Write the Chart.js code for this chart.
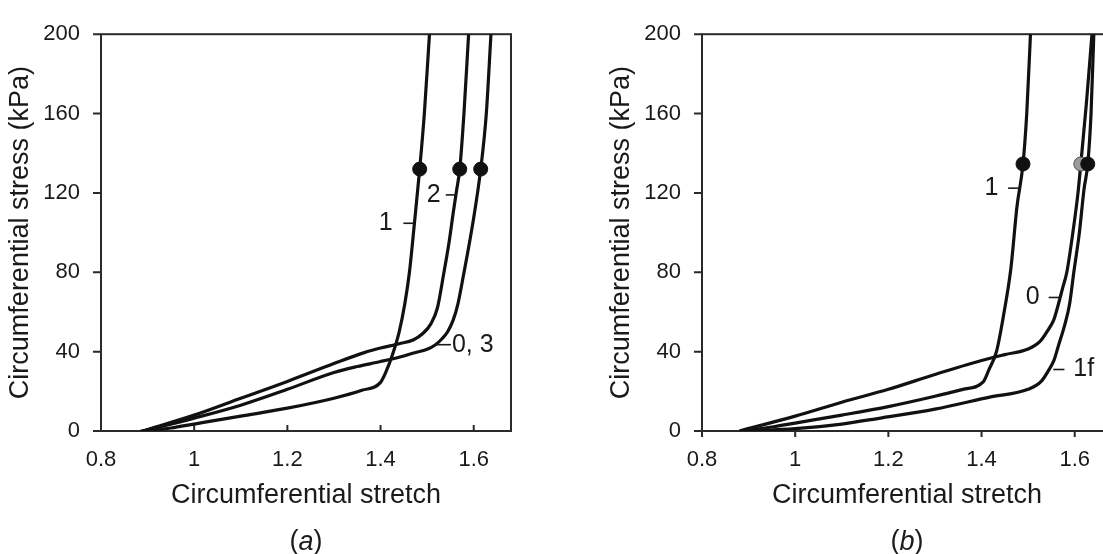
<!DOCTYPE html>
<html>
<head>
<meta charset="utf-8">
<script src="https://cdn.jsdelivr.net/npm/chart.js@4.4.0/dist/chart.umd.min.js"></script>
<style>
html, body { margin: 0; padding: 0; background: #fff; width: 1103px; height: 554px; overflow: hidden; }
canvas { position: absolute; top: 0; }
#ca { left: 0; }
#cb { left: 601px; }
</style>
</head>
<body>
<canvas id="ca" width="540" height="554"></canvas>
<canvas id="cb" width="540" height="554"></canvas>
<script>
// ticks
const xTicks = [0.8, 1, 1.2, 1.4, 1.6];
const yTicks = [0, 40, 80, 120, 160, 200];

// panel (a) - curves 1, 2 and "0, 3"
const a1X = [0.885, 0.95, 1.0, 1.1, 1.2, 1.3, 1.36, 1.40, 1.412, 1.425, 1.44, 1.452, 1.462, 1.472, 1.484, 1.494, 1.505];
const a1Y = [0, 1.5, 3.5, 7.5, 11.5, 16.5, 20.5, 24.5, 30, 38, 50, 64, 80, 103, 132, 160, 200];
const a2X = [0.89, 1.0, 1.1, 1.2, 1.3, 1.365, 1.40, 1.44, 1.471, 1.49, 1.508, 1.522, 1.535, 1.547, 1.556, 1.563, 1.570, 1.579, 1.589];
const a2Y = [0, 8, 16.5, 25, 34, 39.5, 41.8, 44, 46, 49, 54, 62, 78.5, 95, 110, 121, 132, 160, 200];
const a3X = [0.89, 1.0, 1.1, 1.2, 1.3, 1.35, 1.4, 1.45, 1.471, 1.50, 1.518, 1.532, 1.544, 1.556, 1.566, 1.578, 1.598, 1.615, 1.627, 1.637];
const a3Y = [0, 6.5, 13, 21, 29.5, 32.5, 35, 37.8, 39.3, 41.2, 43.5, 46.5, 50, 56, 64, 78.5, 104.7, 132, 160, 200];
const aDotX = [1.484, 1.570, 1.615];
const aDotY = [132, 132, 132];

// panel (b) - curves 1, 0 and 1f
const b1X = [0.884, 0.95, 1.0, 1.1, 1.2, 1.3, 1.36, 1.403, 1.416, 1.432, 1.447, 1.463, 1.476, 1.489, 1.497, 1.505];
const b1Y = [0, 2, 4, 8, 12.3, 17.5, 21, 24.6, 31, 40, 58, 82, 113, 134.6, 160, 200];
const b0X = [0.88, 1.0, 1.1, 1.2, 1.3, 1.4, 1.45, 1.50, 1.525, 1.543, 1.555, 1.565, 1.574, 1.583, 1.596, 1.607, 1.613, 1.625, 1.637];
const b0Y = [0, 7.5, 14.5, 21, 28.5, 35.5, 38.5, 41.3, 45, 51, 56, 64, 72, 80, 100, 120, 134.6, 165, 200];
const b1fX = [0.9, 1.0, 1.1, 1.18, 1.3, 1.42, 1.5, 1.528, 1.546, 1.556, 1.565, 1.578, 1.589, 1.598, 1.61, 1.62, 1.628, 1.635, 1.641];
const b1fY = [0, 1.2, 3.5, 6.4, 11, 17.2, 21, 25, 31.4, 36, 43, 53, 64, 80, 100, 122, 134.6, 160, 200];
const bDotX = [1.489, 1.628];
const bDotY = [134.6, 134.6];
const bGreyX = [1.613];
const bGreyY = [134.6];

// curve labels (text position + little leader line, in data units)
const notesA = [
  { text: '1', x: 1.411, y: 104.7, x1: 1.449, x2: 1.472 },
  { text: '2', x: 1.514, y: 119, x1: 1.540, x2: 1.561 },
  { text: '0, 3', x: 1.598, y: 43.5, x1: 1.518, x2: 1.551 }
];
const notesB = [
  { text: '1', x: 1.421, y: 122.4, x1: 1.457, x2: 1.479 },
  { text: '0', x: 1.510, y: 67.3, x1: 1.544, x2: 1.570 },
  { text: '1f', x: 1.597, y: 31, x1: 1.554, x2: 1.578, align: 'left' }
];

const FAMILY = '"Liberation Sans", Arial, sans-serif';
const INK = '#1a1a1a';
Chart.defaults.font.family = FAMILY;

const pts = (xs, ys) => xs.map((x, i) => ({ x: x, y: ys[i] }));

function curve(xs, ys) {
  return { data: pts(xs, ys), showLine: true, pointRadius: 0, borderColor: '#111', borderWidth: 3.2,
           cubicInterpolationMode: 'monotone', fill: false };
}
function dots(xs, ys, fillc, edge) {
  return { data: pts(xs, ys), showLine: false, pointRadius: 7, pointBackgroundColor: fillc,
           pointBorderColor: edge, pointBorderWidth: 1 };
}

// frame, tick marks, curve labels and panel letter
const decor = {
  id: 'decor',
  beforeDatasetsDraw(chart, args, o) {
    const { ctx, chartArea: a, scales: { x, y } } = chart;
    ctx.save();
    ctx.strokeStyle = '#2a2a2a';
    ctx.lineWidth = 2;
    ctx.strokeRect(a.left, a.top, a.right - a.left, a.bottom - a.top);
    ctx.beginPath();
    yTicks.forEach(v => { const p = y.getPixelForValue(v); ctx.moveTo(a.left - 8, p); ctx.lineTo(a.left, p); });
    xTicks.forEach(v => { const p = x.getPixelForValue(v); ctx.moveTo(p, a.bottom); ctx.lineTo(p, a.bottom + (o.tickIn ? -6 : 6)); });
    ctx.stroke();
    ctx.restore();
  },
  afterDatasetsDraw(chart, args, o) {
    const { ctx, chartArea: a, scales: { x, y } } = chart;
    ctx.save();
    ctx.fillStyle = INK;
    ctx.strokeStyle = INK;
    ctx.lineWidth = 1.6;
    ctx.font = '25px ' + FAMILY;
    ctx.textBaseline = 'middle';
    o.notes.forEach(n => {
      const py = y.getPixelForValue(n.y);
      ctx.beginPath();
      ctx.moveTo(x.getPixelForValue(n.x1), py);
      ctx.lineTo(x.getPixelForValue(n.x2), py);
      ctx.stroke();
      ctx.textAlign = n.align || 'center';
      ctx.fillText(n.text, x.getPixelForValue(n.x), py);
    });
    // (a) / (b) with italic letter
    const cx = (a.left + a.right) / 2, cy = 542;
    const f = '27px ' + FAMILY, fi = 'italic ' + f;
    ctx.font = f;
    const wp = ctx.measureText('(').width, wq = ctx.measureText(')').width;
    ctx.font = fi;
    const wl = ctx.measureText(o.panel).width;
    const sx = cx - (wp + wl + wq) / 2;
    ctx.textAlign = 'left';
    ctx.font = f; ctx.fillText('(', sx, cy);
    ctx.font = fi; ctx.fillText(o.panel, sx + wp, cy);
    ctx.font = f; ctx.fillText(')', sx + wp + wl, cy);
    ctx.restore();
  }
};

function makeChart(id, datasets, panel, notes, tickIn) {
  return new Chart(document.getElementById(id), {
    type: 'scatter',
    data: { datasets: datasets },
    options: {
      responsive: false,
      animation: false,
      layout: { padding: { top: 24, right: 29, bottom: 38, left: 0 } },
      plugins: {
        legend: { display: false },
        tooltip: { enabled: false },
        decor: { panel: panel, notes: notes, tickIn: tickIn }
      },
      scales: {
        x: {
          type: 'linear', min: 0.8, max: 1.68,
          afterBuildTicks: s => { s.ticks = xTicks.map(v => ({ value: v })); },
          afterFit: s => { s.height = 85; },
          grid: { display: false, drawTicks: false },
          border: { display: false },
          ticks: { padding: 16, color: INK, font: { size: 22 }, maxRotation: 0, autoSkip: false,
                   callback: v => String(v) },
          title: { display: true, text: 'Circumferential stretch', color: INK, font: { size: 27 },
                   padding: { top: 4, bottom: 4 } }
        },
        y: {
          type: 'linear', min: 0, max: 200,
          afterBuildTicks: s => { s.ticks = yTicks.map(v => ({ value: v })); },
          afterFit: s => { s.width = 101; },
          grid: { display: false, drawTicks: false },
          border: { display: false },
          ticks: { padding: 21, color: INK, font: { size: 22 }, autoSkip: false, callback: v => String(v) },
          title: { display: true, text: 'Circumferential stress (kPa)', color: INK, font: { size: 27 },
                   padding: { top: 4, bottom: 4 } }
        }
      }
    },
    plugins: [decor]
  });
}

makeChart('ca', [
  dots(aDotX, aDotY, '#111', '#111'),
  curve(a1X, a1Y),
  curve(a2X, a2Y),
  curve(a3X, a3Y)
], 'a', notesA, true);

makeChart('cb', [
  dots(bDotX, bDotY, '#111', '#111'),
  dots(bGreyX, bGreyY, '#9a9a9a', '#555'),
  curve(b1X, b1Y),
  curve(b0X, b0Y),
  curve(b1fX, b1fY)
], 'b', notesB, false);
</script>
</body>
</html>
